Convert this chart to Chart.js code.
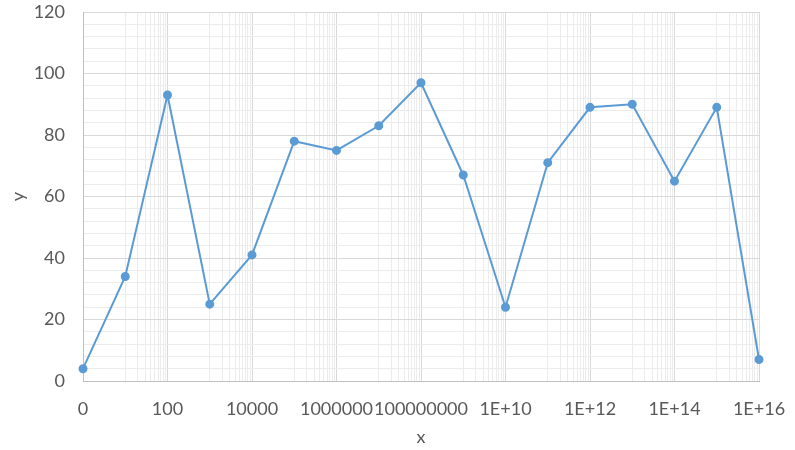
<!DOCTYPE html>
<html>
<head>
<meta charset="utf-8">
<script src="https://cdn.jsdelivr.net/npm/chart.js@4/dist/chart.umd.min.js"></script>
<style>
  html, body { margin: 0; padding: 0; background: #fff; }
  #wrap { width: 795px; height: 450px; }
</style>
</head>
<body>
<div id="wrap"><canvas id="chart" width="795" height="450"></canvas></div>
<script>
// data
const xValues = [1, 1e1, 1e2, 1e3, 1e4, 1e5, 1e6, 1e7, 1e8, 1e9, 1e10, 1e11, 1e12, 1e13, 1e14, 1e15, 1e16];
const yValues = [4, 34, 93, 25, 41, 78, 75, 83, 97, 67, 24, 71, 89, 90, 65, 89, 7];

// major x ticks every 2 decades, with their printed labels
const xMajorValues = [1, 1e2, 1e4, 1e6, 1e8, 1e10, 1e12, 1e14, 1e16];
const xTickLabels = ["0", "100", "10000", "1000000", "100000000", "1E+10", "1E+12", "1E+14", "1E+16"];
const yTickLabels = [0, 20, 40, 60, 80, 100, 120];

const MAJOR_GRID = "#d9d9d9";
const MINOR_GRID = "#ececec";
const AXIS_LINE = "#bfbfbf";
const TEXT = "#595959";
const FONT = "Lato, 'Open Sans', sans-serif";

// minor gridlines: 10,20..90 x 10^(2n)
const xAllTicks = [];
xMajorValues.forEach((m, i) => {
    xAllTicks.push(m);
    if (i < xMajorValues.length - 1) {
        for (let k = 1; k <= 9; k++) xAllTicks.push(k * m * 10);
    }
});
const xMajorSet = new Set(xMajorValues);

const ctx = document.getElementById("chart").getContext("2d");
new Chart(ctx, {
    type: "line",
    data: {
        datasets: [{
            data: xValues.map((x, i) => ({ x: x, y: yValues[i] })),
            borderColor: "#5b9bd5",
            backgroundColor: "#5b9bd5",
            borderWidth: 2,
            pointRadius: 3.5,
            pointHoverRadius: 3.5,
            tension: 0,
            clip: false,
        }],
    },
    options: {
        responsive: false,
        animation: false,
        layout: { padding: { left: 0, right: 36, top: 12, bottom: 0 } },
        plugins: {
            legend: { display: false },
            tooltip: { enabled: false },
        },
        scales: {
            x: {
                type: "logarithmic",
                min: 1,
                max: 1e16,
                afterBuildTicks: (scale) => {
                    scale.ticks = xAllTicks.map((v) => ({ value: v }));
                },
                afterFit: (scale) => {
                    scale.height = 69;
                    scale.paddingLeft = 0;
                    scale.paddingRight = 0;
                },
                ticks: {
                    autoSkip: false,
                    maxRotation: 0,
                    minRotation: 0,
                    padding: 17,
                    color: TEXT,
                    font: { family: FONT, size: 18 },
                    callback: (value) => {
                        const idx = xMajorValues.indexOf(value);
                        return idx >= 0 ? xTickLabels[idx] : "";
                    },
                },
                grid: {
                    drawTicks: false,
                    color: (c) => (c.tick && xMajorSet.has(c.tick.value) ? MAJOR_GRID : MINOR_GRID),
                },
                border: { color: AXIS_LINE, width: 1 },
                title: {
                    display: true,
                    text: "x",
                    color: TEXT,
                    font: { family: FONT, size: 18 },
                    padding: { top: 4, bottom: 2 },
                },
            },
            y: {
                min: 0,
                max: 120,
                afterFit: (scale) => {
                    scale.width = 83;
                    scale.paddingTop = 0;
                    scale.paddingBottom = 0;
                },
                ticks: {
                    stepSize: 4,
                    autoSkip: false,
                    padding: 18,
                    color: TEXT,
                    font: { family: FONT, size: 18 },
                    callback: (value) => (yTickLabels.includes(value) ? String(value) : ""),
                },
                grid: {
                    drawTicks: false,
                    color: (c) => (c.tick && c.tick.value % 20 === 0 ? MAJOR_GRID : MINOR_GRID),
                },
                border: { color: AXIS_LINE, width: 1 },
                title: {
                    display: true,
                    text: "y",
                    color: TEXT,
                    font: { family: FONT, size: 18 },
                    padding: { top: 7, bottom: 4 },
                },
            },
        },
    },
});
</script>
</body>
</html>
